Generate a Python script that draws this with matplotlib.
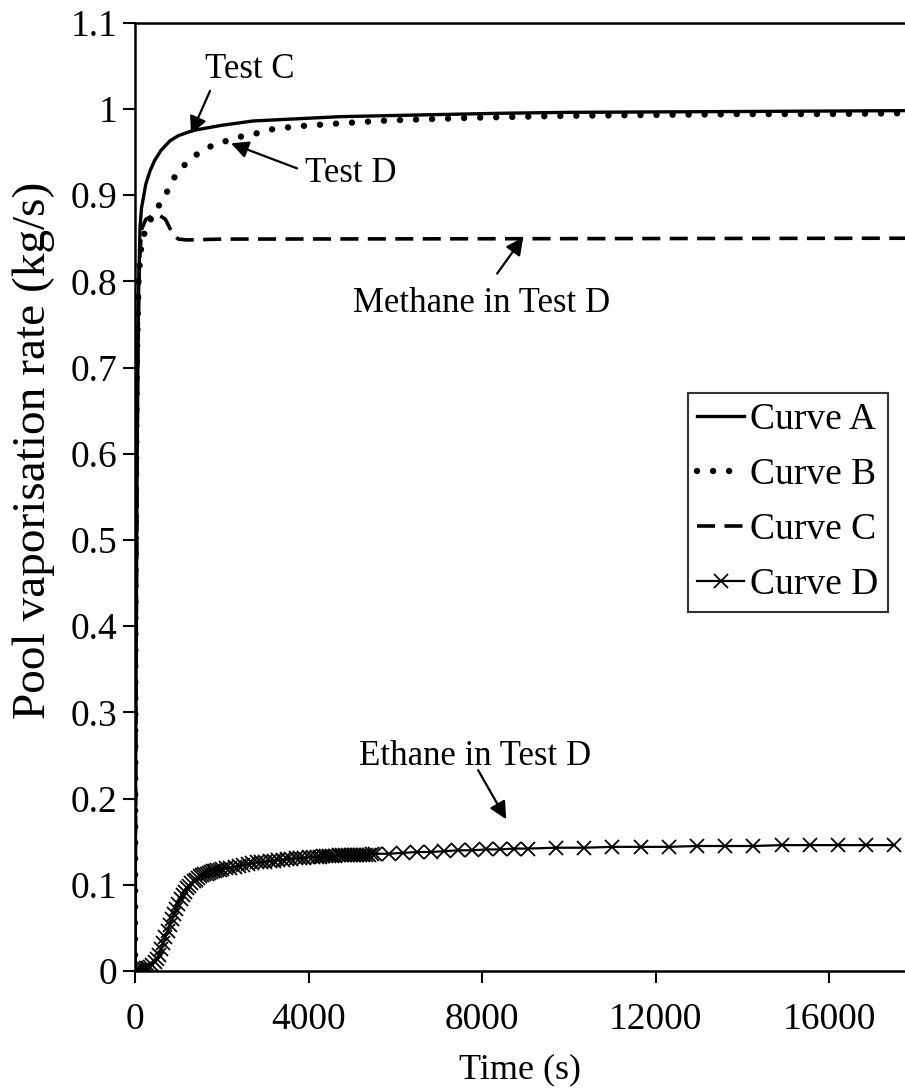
import matplotlib
matplotlib.use("Agg")
import matplotlib.pyplot as plt

plt.rcParams['font.family'] = ['Liberation Serif', 'DejaVu Serif']

# ---- data ----
t_a = [0, 20, 50, 80, 115, 150, 250, 346, 450, 600, 807, 1000, 1337, 2000, 2720, 4725, 6570, 8500,
       10000, 14000, 17750]
v_a = [0, 0.30, 0.60, 0.78, 0.862, 0.885, 0.913, 0.928, 0.940, 0.952, 0.963, 0.969, 0.975, 0.981,
       0.986, 0.991, 0.993, 0.995, 0.996, 0.997, 0.998]

t_b = [0, 10, 40, 80, 130, 230, 407, 576, 730, 900, 1100, 1360, 1660, 2000, 2345, 2690, 3070, 3413,
       3800, 4535, 5600, 6340, 8000, 10000, 12000, 14000, 16000, 17750]
v_b = [0, 0.45, 0.70, 0.80, 0.835, 0.859, 0.876, 0.890, 0.903, 0.920, 0.933, 0.945, 0.955, 0.961,
       0.967, 0.970, 0.9757, 0.978, 0.980, 0.9826, 0.986, 0.9875, 0.990, 0.992, 0.993, 0.994, 0.994, 0.995]

t_c = [0, 30, 60, 100, 150, 250, 400, 550, 700, 800, 900, 1000, 1200, 2000, 17750]
v_c = [0, 0.40, 0.70, 0.82, 0.86, 0.872, 0.876, 0.877, 0.872, 0.862, 0.853, 0.849, 0.848, 0.849, 0.850]

t_d = [0, 50, 100, 150, 200, 250, 300, 350, 400, 450, 500, 550, 600, 650, 700, 750, 800, 850, 900,
       950, 1000, 1050, 1100, 1150, 1200, 1250, 1300, 1350, 1400, 1450, 1500, 1550, 1600, 1650,
       1700, 1750, 1800, 1850, 1900, 1950, 2000,
       2100, 2200, 2300, 2400, 2500, 2600, 2700, 2800, 2900, 3000, 3100,
       3200, 3300, 3400, 3500, 3600, 3700, 3800, 3900, 4000, 4100,
       4200, 4270, 4340, 4410, 4480, 4550, 4620, 4690, 4760, 4830, 4900, 4970, 5040, 5110, 5180,
       5250, 5320, 5390, 5460, 5530,
       5850, 6170, 6490, 6810, 7130, 7450, 7770, 8090, 8410, 8730, 9050,
       9700, 10350, 11000, 11650, 12300, 12950, 13600, 14250, 14900, 15550, 16200, 16850, 17500]
v_d = [0.000, 0.000, 0.001, 0.001, 0.002, 0.003, 0.004, 0.005, 0.007, 0.010, 0.014, 0.019, 0.025,
       0.032, 0.039, 0.046, 0.053, 0.060, 0.066, 0.072, 0.078, 0.083, 0.088, 0.092, 0.096, 0.099,
       0.102, 0.104, 0.106, 0.108, 0.110, 0.111, 0.112, 0.113, 0.114, 0.115, 0.116, 0.116, 0.117,
       0.117, 0.118,
       0.119, 0.120, 0.121, 0.122, 0.123, 0.124, 0.125, 0.126, 0.126, 0.127, 0.128,
       0.128, 0.129, 0.129, 0.130, 0.130, 0.131, 0.131, 0.131, 0.132, 0.132,
       0.132, 0.132, 0.133, 0.133, 0.133, 0.133, 0.133, 0.134, 0.134, 0.134, 0.134, 0.134, 0.135,
       0.135, 0.135, 0.135, 0.135, 0.135, 0.136, 0.136,
       0.136, 0.137, 0.138, 0.138, 0.139, 0.140, 0.140, 0.141, 0.141, 0.142, 0.142,
       0.143, 0.143, 0.144, 0.144, 0.144, 0.145, 0.145, 0.145, 0.146, 0.146, 0.146, 0.146, 0.146]

x_ticks = [0, 4000, 8000, 12000, 16000]
x_tick_labels = ['0', '4000', '8000', '12000', '16000']
y_ticks = [0, 0.1, 0.2, 0.3, 0.4, 0.5, 0.6, 0.7, 0.8, 0.9, 1.0, 1.1]
y_tick_labels = ['0', '0.1', '0.2', '0.3', '0.4', '0.5', '0.6', '0.7', '0.8', '0.9', '1', '1.1']
legend_labels = ['Curve A', 'Curve B', 'Curve C', 'Curve D']

# ---- figure ----
W, H = 905, 1089
fig = plt.figure(figsize=(W / 100, H / 100), dpi=100)
ax = fig.add_axes([135 / W, 118 / H, 770 / W, 948.3 / H])

ax.plot(t_a, v_a, color='black', lw=2.4, solid_joinstyle='round', label=legend_labels[0], zorder=4)
ax.plot(t_b, v_b, color='black', lw=4.6, linestyle=(0, (0.01, 2.5)), dash_capstyle='round',
        label=legend_labels[1], zorder=3)
ax.plot(t_c, v_c, color='black', lw=2.6, linestyle=(0, (5.0, 2.6)), dash_capstyle='butt',
        label=legend_labels[2], zorder=3)
ax.plot(t_d, v_d, color='black', lw=1.6, marker='x', markersize=10.5, markeredgewidth=1.3,
        label=legend_labels[3], zorder=3)

ax.set_xlim(0, 17744)
ax.set_ylim(0, 1.1)
ax.set_xticks(x_ticks)
ax.set_xticklabels(x_tick_labels)
ax.set_yticks(y_ticks)
ax.set_yticklabels(y_tick_labels)
ax.tick_params(axis='both', direction='out', length=8.5, width=1.5, labelsize=27, colors='black')
ax.tick_params(axis='x', pad=14)
ax.tick_params(axis='y', pad=4)
for s in ['left', 'bottom', 'top']:
    ax.spines[s].set_linewidth(1.8)
ax.spines['right'].set_visible(False)

ax.set_xlabel('Time (s)', fontsize=26, labelpad=12)
fig.text(34 / W, 1 - 450 / H, 'Pool vaporisation rate (kg/s)', rotation=90, ha='center',
         va='center', fontsize=34)

aprops = dict(arrowstyle='-|>', color='black', lw=1.6, mutation_scale=26, shrinkA=0, shrinkB=0)
ann_fs = 25
ax.annotate('', xy=(1290, 0.971), xytext=(1730, 1.021), arrowprops=aprops)
ax.text(1613, 1.0363, 'Test C', fontsize=ann_fs, ha='left', va='baseline')
ax.annotate('', xy=(2213, 0.960), xytext=(3735, 0.931), arrowprops=aprops)
ax.text(3918, 0.915, 'Test D', fontsize=ann_fs, ha='left', va='baseline')
ax.annotate('', xy=(8945, 0.851), xytext=(8345, 0.809), arrowprops=aprops)
ax.text(5024, 0.764, 'Methane in Test D', fontsize=ann_fs, ha='left', va='baseline')
ax.annotate('', xy=(8552, 0.176), xytext=(7907, 0.233), arrowprops=aprops)
ax.text(5162, 0.2388, 'Ethane in Test D', fontsize=ann_fs, ha='left', va='baseline')

leg = ax.legend(loc='upper left', bbox_to_anchor=((688 - 135) / 770, (971 - 393) / 948.3),
                fontsize=27, frameon=True, fancybox=False, edgecolor='black', handlelength=1.25,
                handletextpad=0.15, borderpad=0.25, labelspacing=0.55, borderaxespad=0)
leg.get_frame().set_linewidth(1.5)

fig.savefig('out.png', dpi=100)
